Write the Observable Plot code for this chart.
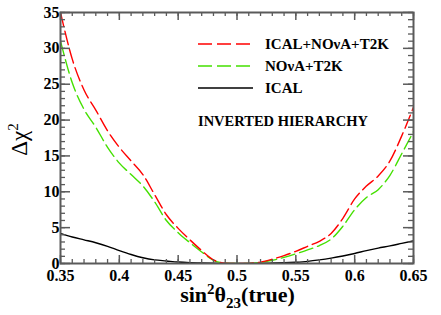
<!DOCTYPE html>
<html>
<head>
<meta charset="utf-8">
<script src="https://cdn.jsdelivr.net/npm/d3@7"></script>
<script src="https://cdn.jsdelivr.net/npm/@observablehq/plot@0.6"></script>
<style>
  html, body { margin: 0; padding: 0; background: #fff; }
</style>
</head>
<body>
<div id="chart"></div>
<script>
const sin2 = [0.35,0.36,0.37,0.38,0.39,0.40,0.41,0.42,0.43,0.44,0.45,0.46,0.47,0.48,0.49,0.50,
              0.51,0.52,0.53,0.54,0.55,0.56,0.57,0.58,0.59,0.60,0.61,0.62,0.63,0.64,0.65];
const icalNovaT2k = [35,28.5,24.2,21.4,18.5,16.2,14.3,12.4,9.6,6.8,4.9,3.3,1.8,0.5,0.05,0,
                     0.02,0.2,0.6,1.1,1.7,2.4,3.1,4.2,6.3,9.0,10.8,12.2,14.3,17.8,21.8];
const novaT2k = [31,25.2,21.5,19,16.2,14,12.4,10.8,8.6,6.0,4.3,2.9,1.6,0.45,0.05,0,
                 0.02,0.15,0.45,0.85,1.35,1.9,2.5,3.4,5.2,7.5,9.2,10.3,12.3,15.3,18.4];
const ical = [4.2,3.7,3.3,2.9,2.4,1.8,1.25,0.8,0.5,0.35,0.2,0.12,0.08,0.04,0.01,0,
              0.01,0.03,0.06,0.1,0.18,0.3,0.5,0.75,1.05,1.4,1.8,2.15,2.45,2.8,3.15];
const seriesNames = ["ICAL+NOνA+T2K", "NOνA+T2K", "ICAL"];
const seriesColors = ["#ff0000", "#44e000", "#000000"];
const seriesDash = ["14,5", "14,5", null];
const annotation = "INVERTED HIERARCHY";
const xTicks = [0.35,0.40,0.45,0.50,0.55,0.60,0.65];
const yTicks = [0,5,10,15,20,25,30,35];
const xMinor = d3.range(35, 66).map(d => d / 100);
const yMinor = d3.range(0, 36);

const W = 441, H = 315, mL = 60, mR = 28, mT = 12, mB = 52;
const iW = W - mL - mR, iH = H - mT - mB;
const serif = "'Liberation Serif', 'Times New Roman', serif";

const series = [icalNovaT2k, novaT2k, ical];
const rows = series.flatMap((vals, i) => vals.map((v, j) => ({x: sin2[j], y: v, s: seriesNames[i]})));

const frameColor = "#5a5a5a";
const tickMarks = [];
tickMarks.push(Plot.ruleX(xMinor, {x: d => d, insetTop: iH - 4, stroke: frameColor, strokeWidth: 1.3}));
tickMarks.push(Plot.ruleX(xTicks, {x: d => d, insetTop: iH - 8, stroke: frameColor, strokeWidth: 1.5}));
tickMarks.push(Plot.ruleX(xMinor, {x: d => d, insetBottom: iH - 4, stroke: frameColor, strokeWidth: 1.3}));
tickMarks.push(Plot.ruleX(xTicks, {x: d => d, insetBottom: iH - 8, stroke: frameColor, strokeWidth: 1.5}));
tickMarks.push(Plot.ruleY(yMinor, {y: d => d, insetRight: iW - 5, stroke: frameColor, strokeWidth: 1.3}));
tickMarks.push(Plot.ruleY(yTicks, {y: d => d, insetRight: iW - 10, stroke: frameColor, strokeWidth: 1.5}));
tickMarks.push(Plot.ruleY(yMinor, {y: d => d, insetLeft: iW - 5, stroke: frameColor, strokeWidth: 1.3}));
tickMarks.push(Plot.ruleY(yTicks, {y: d => d, insetLeft: iW - 10, stroke: frameColor, strokeWidth: 1.5}));

const lineMarks = seriesNames.map((name, i) =>
  Plot.line(rows.filter(r => r.s === name), {
    x: "x", y: "y", stroke: seriesColors[i], strokeWidth: 1.4,
    strokeDasharray: seriesDash[i] || undefined, curve: "monotone-x", clip: true
  })
).reverse();

const chart = Plot.plot({
  width: W, height: H,
  marginLeft: mL, marginRight: mR, marginTop: mT, marginBottom: mB,
  style: {background: "#fff", color: "#000"},
  x: {domain: [0.35, 0.65], ticks: xTicks, tickSize: 0, tickPadding: 6, label: null,
      tickFormat: d => String(+d.toFixed(2))},
  y: {domain: [0, 35], ticks: yTicks, tickSize: 0, tickPadding: 1, label: null},
  marks: [
    ...lineMarks,
    ...tickMarks,
    Plot.frame({stroke: frameColor, strokeWidth: 2})
  ]
});

const svg = d3.select(chart);
svg.selectAll("text")
   .style("font-family", serif).style("font-weight", "bold").style("font-size", "16px").attr("fill", "#000");

// Legend
const lg = svg.append("g").style("font-family", serif).style("font-weight", "bold").style("font-size", "15px")
  .attr("text-anchor", "start");
const legY = [44, 66, 88];
seriesNames.forEach((name, i) => {
  lg.append("line").attr("x1", 198).attr("x2", 253).attr("y1", legY[i]).attr("y2", legY[i])
    .attr("stroke", seriesColors[i]).attr("stroke-width", 1.4)
    .attr("stroke-dasharray", seriesDash[i]);
  lg.append("text").attr("x", 265).attr("y", legY[i]).attr("dy", "0.35em").text(name);
});
lg.append("text").attr("x", 198).attr("y", 121).attr("dy", "0.35em").style("font-size", "14.5px").text(annotation);

// Axis titles
const xt = svg.append("text").attr("x", mL + iW / 2 + 1).attr("y", 302).attr("text-anchor", "middle")
  .style("font-family", serif).style("font-weight", "bold").style("font-size", "22px");
xt.append("tspan").text("sin");
xt.append("tspan").attr("dy", -8).style("font-size", "15px").text("2");
xt.append("tspan").attr("dy", 8).text("θ");
xt.append("tspan").attr("dy", 6).style("font-size", "15px").text("23");
xt.append("tspan").attr("dy", -6).text("(true)");

const yt = svg.append("text").attr("transform", `translate(27,${mT + iH / 2 + 2}) rotate(-90)`).attr("text-anchor", "middle")
  .style("font-family", serif).style("font-weight", "normal").style("font-size", "23px");
yt.append("tspan").text("Δχ");
yt.append("tspan").attr("dy", -9).style("font-size", "15px").text("2");

document.getElementById("chart").appendChild(chart);
</script>
</body>
</html>
